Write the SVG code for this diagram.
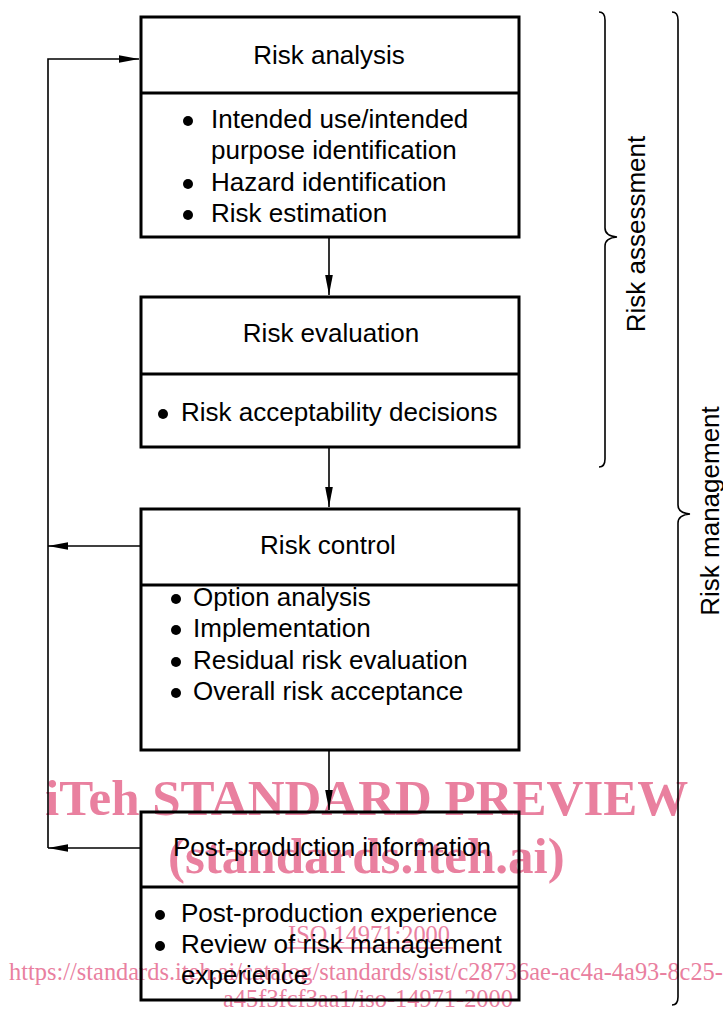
<svg xmlns="http://www.w3.org/2000/svg" width="723" height="1009" viewBox="0 0 723 1009">
<style>
.box{fill:none;stroke:#000;stroke-width:3}
.div{stroke:#000;stroke-width:3}
.t{font-family:"Liberation Sans",Arial,sans-serif;font-size:26px;fill:#000}
.c{text-anchor:middle}
.dot{fill:#000}
.con{fill:none;stroke:#000;stroke-width:1.6}
.br{fill:none;stroke:#000;stroke-width:1.6}
.wm{font-family:"Liberation Serif","Times New Roman",serif;fill:#e9809f}
.wmb{font-weight:bold;font-size:51px}
.wms{font-size:24.4px;text-anchor:middle}
</style>
<defs>
<marker id="ah" markerUnits="userSpaceOnUse" markerWidth="22" markerHeight="10" refX="20" refY="5" orient="auto">
<path d="M0,1.2 L20,5 L0,8.8 Z" fill="#000"/>
</marker>
</defs>
<g id="watermark">
<text class="wm wmb" x="45" y="815">iTeh STANDARD PREVIEW</text>
<text class="wm wmb" x="168" y="873">(standards.iteh.ai)</text>
<text class="wm wms" x="369" y="943">ISO 14971:2000</text>
<line x1="285" y1="948" x2="453" y2="948" stroke="#e9809f" stroke-width="1.5"/>
<text class="wm wms" x="366" y="980">https://standards.iteh.ai/catalog/standards/sist/c28736ae-ac4a-4a93-8c25-</text>
<text class="wm wms" x="368" y="1007">a45f3fcf3aa1/iso-14971-2000</text>
</g>
<g id="connectors">
<line class="con" x1="329" y1="238" x2="329" y2="295" marker-end="url(#ah)"/>
<line class="con" x1="329" y1="448" x2="329" y2="507" marker-end="url(#ah)"/>
<line class="con" x1="329" y1="751" x2="329" y2="810" marker-end="url(#ah)"/>
<polyline class="con" points="48,848 48,59 139,59" marker-end="url(#ah)"/>
<line class="con" x1="140" y1="848" x2="48" y2="848" marker-end="url(#ah)"/>
<line class="con" x1="140" y1="546" x2="48" y2="546" marker-end="url(#ah)"/>
</g>
<g id="risk-analysis">
<rect class="box" x="141" y="17" width="378" height="220"/>
<line class="div" x1="141" y1="93" x2="519" y2="93"/>
<text class="t c" x="329" y="64">Risk analysis</text>
<circle class="dot" cx="188" cy="121" r="5"/>
<text class="t" x="211" y="128">Intended use/intended</text>
<text class="t" x="211" y="159">purpose identification</text>
<circle class="dot" cx="188" cy="184" r="5"/>
<text class="t" x="211" y="191">Hazard identification</text>
<circle class="dot" cx="188" cy="215" r="5"/>
<text class="t" x="211" y="222">Risk estimation</text>
</g>
<g id="risk-evaluation">
<rect class="box" x="141" y="297" width="378" height="150"/>
<line class="div" x1="141" y1="374" x2="519" y2="374"/>
<text class="t c" x="331" y="342">Risk evaluation</text>
<circle class="dot" cx="163" cy="414" r="5"/>
<text class="t" x="181" y="421">Risk acceptability decisions</text>
</g>
<g id="risk-control">
<rect class="box" x="141" y="509" width="378" height="241"/>
<line class="div" x1="141" y1="585" x2="519" y2="585"/>
<text class="t c" x="328" y="554">Risk control</text>
<circle class="dot" cx="176" cy="599" r="5"/>
<text class="t" x="193" y="606">Option analysis</text>
<circle class="dot" cx="176" cy="630" r="5"/>
<text class="t" x="193" y="637">Implementation</text>
<circle class="dot" cx="176" cy="662" r="5"/>
<text class="t" x="193" y="669">Residual risk evaluation</text>
<circle class="dot" cx="176" cy="693" r="5"/>
<text class="t" x="193" y="700">Overall risk acceptance</text>
</g>
<g id="post-production">
<rect class="box" x="141" y="812" width="378" height="188"/>
<line class="div" x1="141" y1="887" x2="519" y2="887"/>
<text class="t c" x="332" y="856">Post-production information</text>
<circle class="dot" cx="160" cy="915" r="5"/>
<text class="t" x="181" y="922">Post-production experience</text>
<circle class="dot" cx="160" cy="946" r="5"/>
<text class="t" x="181" y="953">Review of risk management</text>
<text class="t" x="181" y="984">experience</text>
</g>
<g id="risk-assessment">
<path class="br" d="M599,12 Q605,12 605,20 L605,228 Q605,236 617,237 Q605,238 605,246 L605,459 Q605,467 599,467"/>
<text class="t c" transform="translate(645,234) rotate(-90)">Risk assessment</text>
</g>
<g id="risk-management">
<path class="br" d="M672,12 Q678,12 678,20 L678,505 Q678,513 690,514 Q678,515 678,523 L678,997 Q678,1005 672,1005"/>
<text class="t c" transform="translate(719,511) rotate(-90)">Risk management</text>
</g>
</svg>
